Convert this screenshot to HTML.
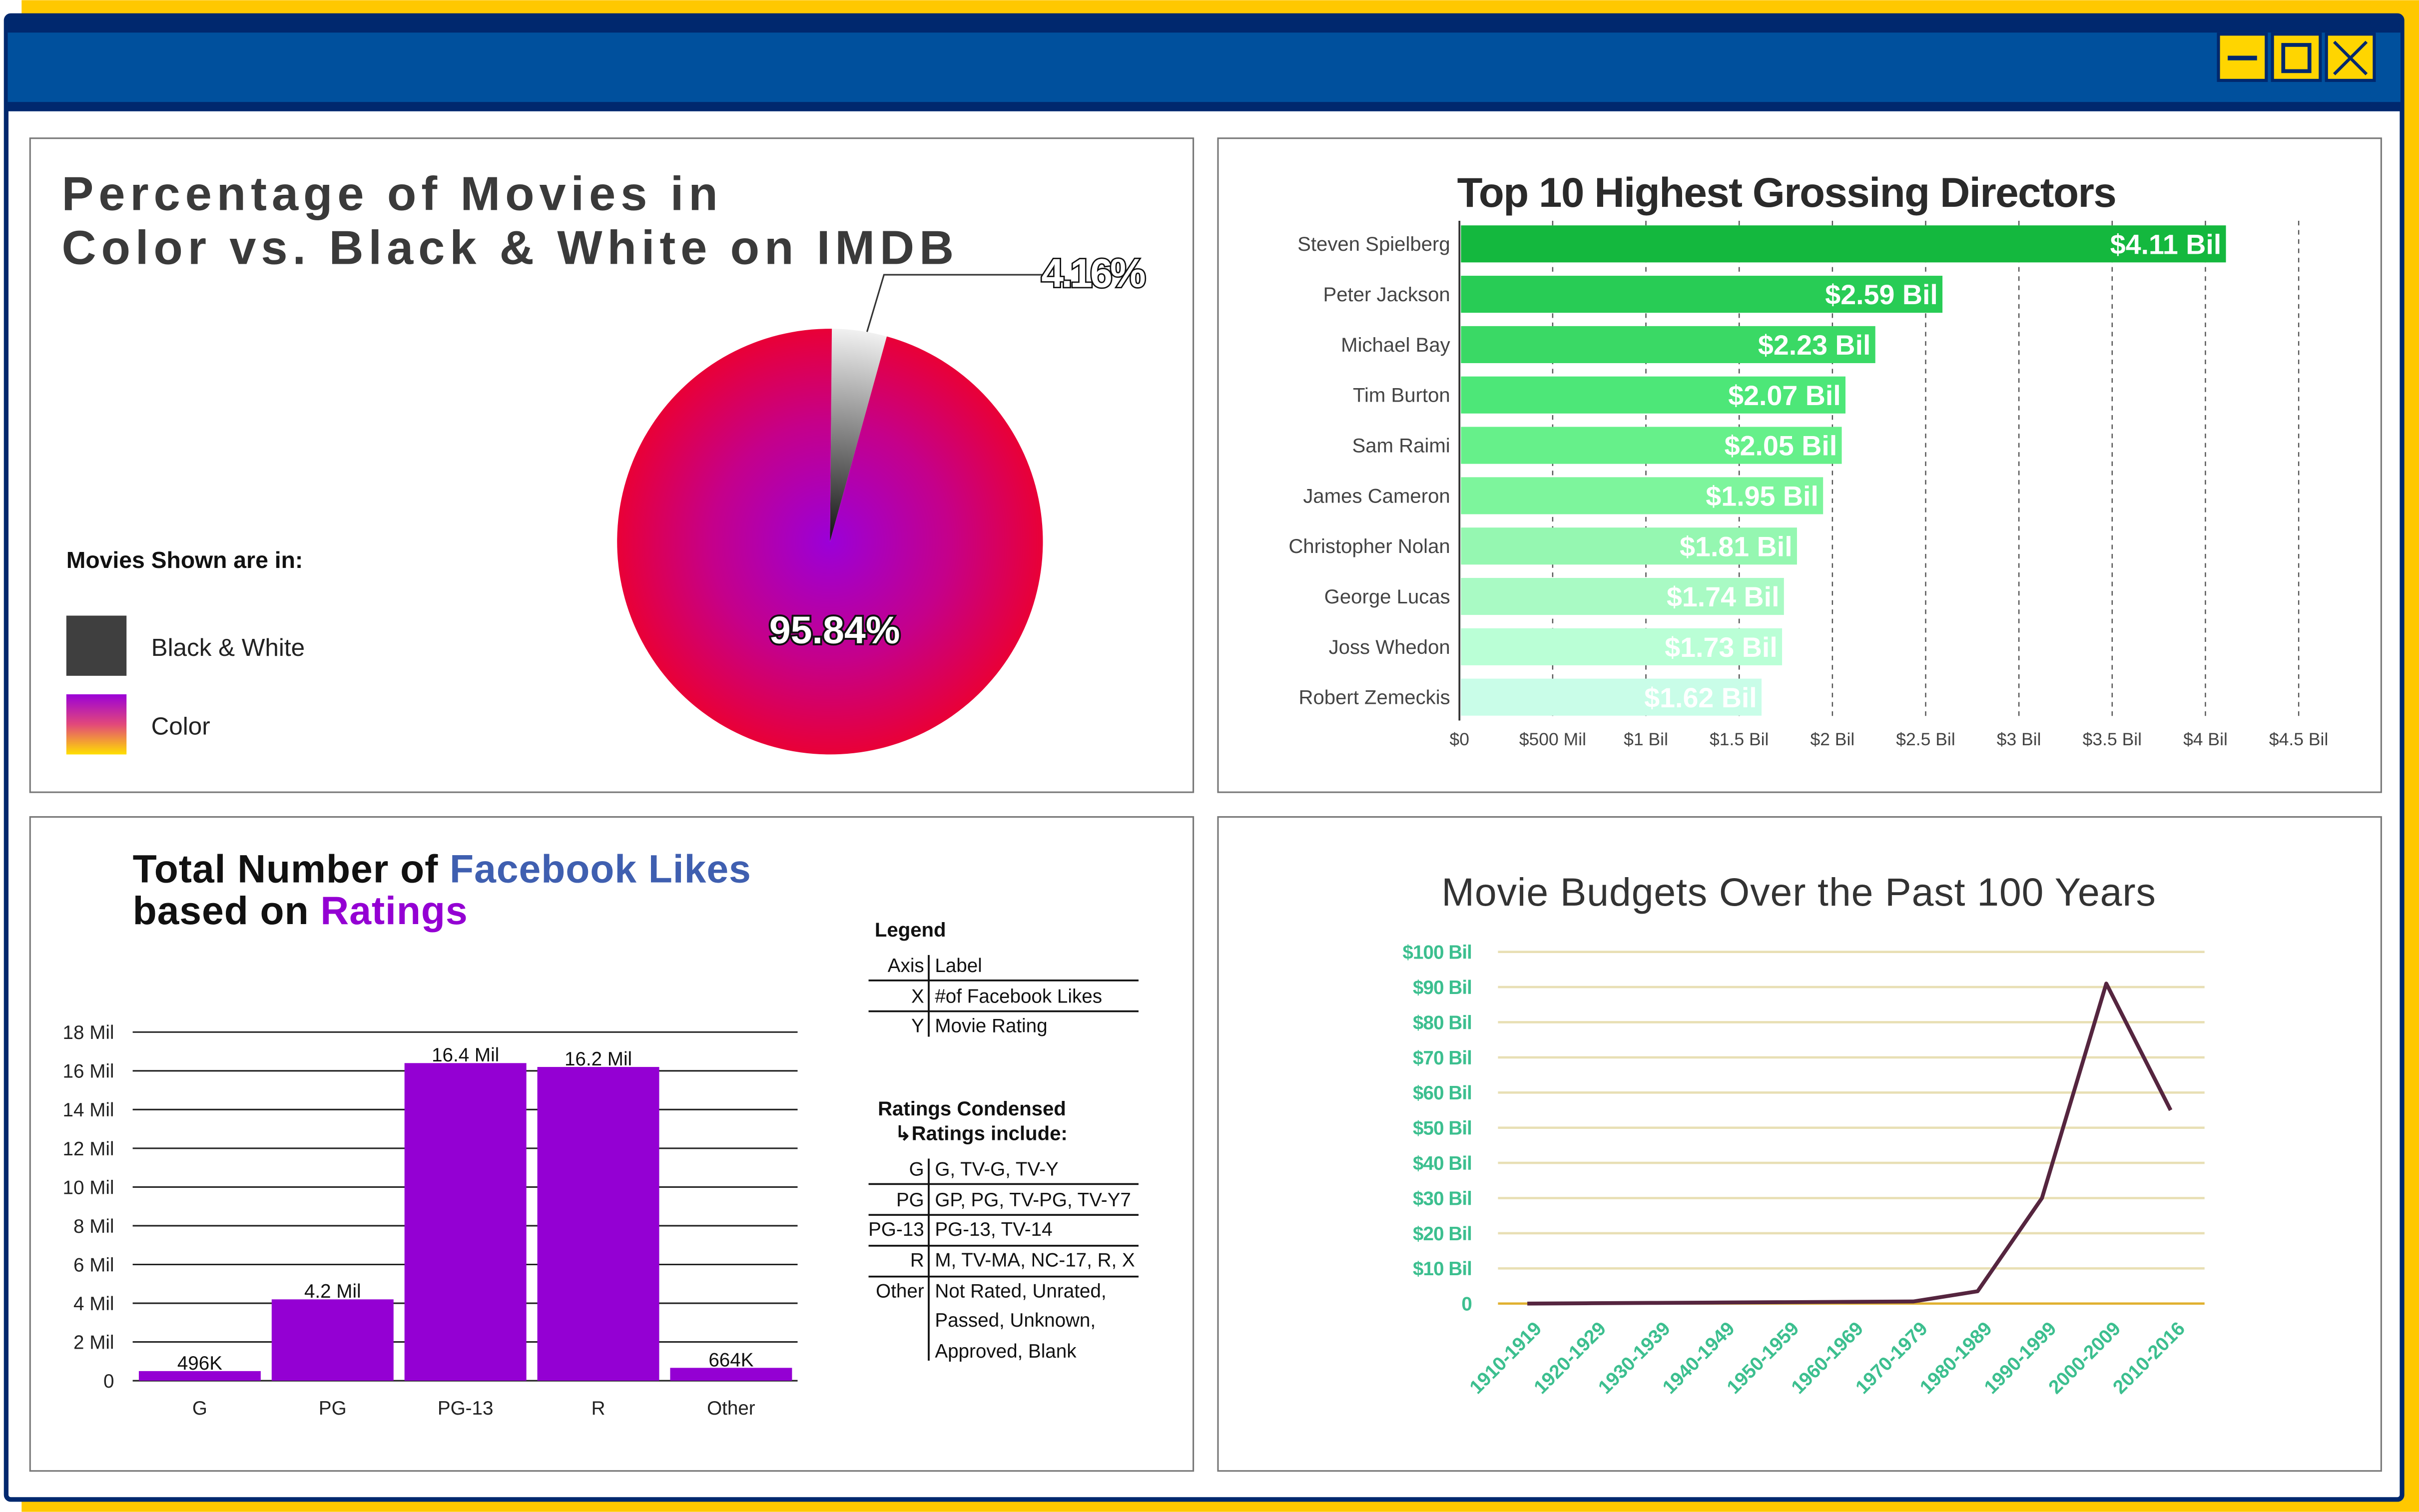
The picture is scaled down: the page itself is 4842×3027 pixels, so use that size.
<!DOCTYPE html>
<html><head><meta charset="utf-8"><style>
html,body{margin:0;padding:0;background:#fff;}
svg{display:block;}
text{font-family:"Liberation Sans",sans-serif;}
</style></head><body>
<svg id="s" width="4842" height="3027" viewBox="0 0 1568 980" xmlns="http://www.w3.org/2000/svg">
<defs>
<radialGradient id="pieG" cx="538" cy="351" r="140" gradientUnits="userSpaceOnUse">
<stop offset="0" stop-color="#9b00d8"/><stop offset="0.55" stop-color="#c5008a"/><stop offset="1" stop-color="#ea0034"/></radialGradient>
<radialGradient id="bwG" cx="538" cy="351" r="140" gradientUnits="userSpaceOnUse">
<stop offset="0" stop-color="#111"/><stop offset="1" stop-color="#f4f4f4"/></radialGradient>
<linearGradient id="colG" x1="0" y1="0" x2="0" y2="1"><stop offset="0" stop-color="#9b00d8"/><stop offset="0.5" stop-color="#e2487a"/><stop offset="1" stop-color="#ffe000"/></linearGradient>
</defs>
<rect x="14" y="0" width="1554" height="980" fill="#ffc800"/>
<rect x="4" y="10" width="1553" height="962" rx="3" fill="#fff" stroke="#00286e" stroke-width="3"/>
<rect x="5" y="11" width="1551" height="61" fill="#00509d"/>
<rect x="5" y="11" width="1551" height="10" fill="#00286e"/>
<rect x="5" y="66" width="1551" height="6" fill="#00286e"/>
<g><rect x="1438" y="22" width="31" height="30" fill="#ffd500" stroke="#00286e" stroke-width="2"/><rect x="1444" y="36" width="19" height="3" fill="#00286e"/></g>
<g><rect x="1473" y="22" width="31" height="30" fill="#ffd500" stroke="#00286e" stroke-width="2"/><rect x="1480" y="29" width="17" height="17" fill="none" stroke="#00286e" stroke-width="2.5"/></g>
<g><rect x="1508" y="22" width="31" height="30" fill="#ffd500" stroke="#00286e" stroke-width="2"/><path d="M1513 27L1534 48M1534 27L1513 48" stroke="#00286e" stroke-width="2"/></g>

<rect x="19.5" y="89.5" width="754" height="424" fill="#fff" stroke="#777" stroke-width="1"/>
<rect x="789.5" y="89.5" width="754" height="424" fill="#fff" stroke="#777" stroke-width="1"/>
<rect x="19.5" y="529.5" width="754" height="424" fill="#fff" stroke="#777" stroke-width="1"/>
<rect x="789.5" y="529.5" width="754" height="424" fill="#fff" stroke="#777" stroke-width="1"/>

<!-- Pie -->
<text x="40" y="136" font-size="31" font-weight="bold" fill="#3a3a3a" letter-spacing="3.2">Percentage of Movies in</text>
<text x="40" y="171" font-size="31" font-weight="bold" fill="#3a3a3a" letter-spacing="3.2">Color vs. Black &amp; White on IMDB</text>
<text x="43" y="368" font-size="15" font-weight="bold" fill="#111">Movies Shown are in:</text>
<rect x="43" y="399" width="39" height="39" fill="#3f3f3f"/>
<text x="98" y="425" font-size="16" fill="#222">Black &amp; White</text>
<rect x="43" y="450" width="39" height="39" fill="url(#colG)"/>
<text x="98" y="476" font-size="16" fill="#222">Color</text>
<g id="pie"></g>
<polyline points="562,215 573,178 676,178" fill="none" stroke="#333" stroke-width="1"/>
<text x="675" y="186" font-size="26" font-weight="bold" fill="#fff" stroke="#111" stroke-width="1.8" letter-spacing="-1.5" paint-order="stroke">4.16%</text>
<text x="541" y="417" font-size="25" font-weight="bold" fill="#fff" stroke="#111" stroke-width="2.5" text-anchor="middle" paint-order="stroke">95.84%</text>

<!-- Directors -->
<text x="1158" y="134" font-size="27" font-weight="bold" fill="#2a2a2a" text-anchor="middle" letter-spacing="-0.5">Top 10 Highest Grossing Directors</text>
<g id="dir"></g>

<!-- Facebook -->
<text x="86" y="572" font-size="25.5" font-weight="bold" fill="#111" letter-spacing="0.3">Total Number of <tspan fill="#3f5fb0">Facebook Likes</tspan></text>
<text x="86" y="599" font-size="25.5" font-weight="bold" fill="#111" letter-spacing="0.3">based on <tspan fill="#9400d3">Ratings</tspan></text>
<g id="fb"></g>
<g font-size="12.5" fill="#111">
<text x="567" y="607" font-weight="bold" font-size="13">Legend</text>
<text x="599" y="630" text-anchor="end">Axis</text><text x="606" y="630">Label</text>
<text x="599" y="650" text-anchor="end">X</text><text x="606" y="650">#of Facebook Likes</text>
<text x="599" y="669" text-anchor="end">Y</text><text x="606" y="669">Movie Rating</text>
<path d="M602 619V672M563 635.5H738M563 655.5H738" stroke="#111" stroke-width="1.2"/>
<text x="569" y="723" font-weight="bold" font-size="13">Ratings Condensed</text>
<text x="580" y="739" font-weight="bold" font-size="13">↳Ratings include:</text>
<text x="599" y="762" text-anchor="end">G</text><text x="606" y="762">G, TV-G, TV-Y</text>
<text x="599" y="782" text-anchor="end">PG</text><text x="606" y="782">GP, PG, TV-PG, TV-Y7</text>
<text x="599" y="801" text-anchor="end">PG-13</text><text x="606" y="801">PG-13, TV-14</text>
<text x="599" y="821" text-anchor="end">R</text><text x="606" y="821">M, TV-MA, NC-17, R, X</text>
<text x="599" y="841" text-anchor="end">Other</text><text x="606" y="841">Not Rated, Unrated,</text>
<text x="606" y="860">Passed, Unknown,</text><text x="606" y="880">Approved, Blank</text>
<path d="M602 751V882M563 767.5H738M563 787.5H738M563 807.5H738M563 827.5H738" stroke="#111" stroke-width="1.2"/>
</g>

<!-- Budgets -->
<text x="1166" y="587" font-size="25.5" fill="#333" text-anchor="middle" letter-spacing="0.3">Movie Budgets Over the Past 100 Years</text>
<g id="bud"></g>
</svg>
<script>
const NS='http://www.w3.org/2000/svg';
function mk(p,tag,a,txt){const e=document.createElementNS(NS,tag);for(const k in a)e.setAttribute(k,a[k]);if(txt!==undefined)e.textContent=txt;p.appendChild(e);return e;}

// Pie data
const pieLabels=['Black & White','Color'];
const pieValues=[4.16,95.84];
(function(){
 const g=document.getElementById('pie');const cx=538,cy=351,r=138;
 let a0=0.5*Math.PI/180;const tot=pieValues.reduce((a,b)=>a+b,0);
 const fills=['url(#bwG)','url(#pieG)'];
 pieValues.forEach((v,i)=>{
  const a1=a0+v/tot*2*Math.PI;
  const x0=cx+r*Math.sin(a0),y0=cy-r*Math.cos(a0),x1=cx+r*Math.sin(a1),y1=cy-r*Math.cos(a1);
  const p=mk(g,'path',{d:`M${cx} ${cy}L${x0} ${y0}A${r} ${r} 0 ${(a1-a0)>Math.PI?1:0} 1 ${x1} ${y1}Z`,fill:fills[i]});
  
  
  a0=a1;
 });
})();

// Directors data
const directors=['Steven Spielberg','Peter Jackson','Michael Bay','Tim Burton','Sam Raimi','James Cameron','Christopher Nolan','George Lucas','Joss Whedon','Robert Zemeckis'];
const grossBil=[4.11,2.59,2.23,2.07,2.05,1.95,1.81,1.74,1.73,1.62];
const grossTicks=[0,0.5,1,1.5,2,2.5,3,3.5,4,4.5];
const grossTickLabels=['$0','$500 Mil','$1 Bil','$1.5 Bil','$2 Bil','$2.5 Bil','$3 Bil','$3.5 Bil','$4 Bil','$4.5 Bil'];
const dirColors=['#14b83e','#28cc55','#3ad965','#4de778','#66f08a','#7df59c','#95f7b1','#a9fac4','#baffd6','#c9fde8'];
(function(){
 const g=document.getElementById('dir');
 const x=v=>946+v*(1490-946)/4.5;const y0=142,step=32.65,bh=24;
 grossTicks.forEach((t,i)=>{
  if(i>0){const l=mk(g,'line',{x1:x(t),x2:x(t),y1:143,y2:467,stroke:'#555','stroke-width':0.8,'stroke-dasharray':'3,3'});
  
  }
  const tx=mk(g,'text',{x:x(t),y:483,'font-size':11.5,fill:'#444','text-anchor':'middle'},grossTickLabels[i]);
  
  
 });
 directors.forEach((d,i)=>{
  const yc=y0+i*step+bh/2+4;
  const r=mk(g,'rect',{x:947,y:yc-bh/2,width:x(grossBil[i])-947,height:bh,fill:dirColors[i]});
  
  
  const l=mk(g,'text',{x:940,y:yc+4.5,'font-size':13,fill:'#444','text-anchor':'end'},d);
  
  
  const v=mk(g,'text',{x:x(grossBil[i])-3,y:yc+6.5,'font-size':18,'font-weight':'bold',fill:'#fff','text-anchor':'end'},'$'+grossBil[i].toFixed(2)+' Bil');
  
  
 });
 const ax=mk(g,'line',{x1:946,x2:946,y1:143,y2:467,stroke:'#333','stroke-width':1.2});
 
 
})();

// Facebook data
const ratings=['G','PG','PG-13','R','Other'];
const likesMil=[0.496,4.2,16.4,16.2,0.664];
const likesLabels=['496K','4.2 Mil','16.4 Mil','16.2 Mil','664K'];
const likesTicks=[0,2,4,6,8,10,12,14,16,18];
(function(){
 const g=document.getElementById('fb');
 const y=v=>895-v*(895-669)/18;
 likesTicks.forEach(t=>{
  const l=mk(g,'line',{x1:86,x2:517,y1:y(t),y2:y(t),stroke:'#222','stroke-width':1});
  
  
  const tx=mk(g,'text',{x:74,y:y(t)+4.5,'font-size':12.5,fill:'#222','text-anchor':'end'},t===0?'0':t+' Mil');
  
  
 });
 const bw=79,start=90,step=86.1;
 ratings.forEach((r,i)=>{
  const bx=start+i*step;
  const b=mk(g,'rect',{x:bx,y:y(likesMil[i]),width:bw,height:895-y(likesMil[i]),fill:'#9400d3'});
  
  
  const v=mk(g,'text',{x:bx+bw/2,y:y(likesMil[i])-1,'font-size':12.5,fill:'#111','text-anchor':'middle'},likesLabels[i]);
  
  
  const c=mk(g,'text',{x:bx+bw/2,y:917,'font-size':12.5,fill:'#222','text-anchor':'middle'},r);
  
  
 });
})();

// Budget data
const decades=['1910-1919','1920-1929','1930-1939','1940-1949','1950-1959','1960-1969','1970-1979','1980-1989','1990-1999','2000-2009','2010-2016'];
const budgetBil=[0,0.1,0.2,0.3,0.4,0.5,0.6,3.5,30,91,55];
const budgetTicks=[0,10,20,30,40,50,60,70,80,90,100];
(function(){
 const g=document.getElementById('bud');
 const y=v=>845-v*(845-617)/100;const x=i=>990+i*(1407-990)/10;
 budgetTicks.forEach(t=>{
  const l=mk(g,'line',{x1:971,x2:1429,y1:y(t),y2:y(t),stroke:t===0?'#e0b030':'#e8dfb4','stroke-width':1.5});
  
  
  const tx=mk(g,'text',{x:954,y:y(t)+4.5,'font-size':12.5,'font-weight':'bold',fill:'#3cbf8f','text-anchor':'end',  'letter-spacing':'-0.3'},t===0?'0':'$'+t+' Bil');
  
  
 });
 decades.forEach((d,i)=>{
  const t=mk(g,'text',{x:x(i)+10,y:862,'font-size':12.5,'font-weight':'bold',fill:'#3cbf8f','text-anchor':'end',transform:`rotate(-45 ${x(i)+10} 862)`},d);
  
  
 });
 const pts=budgetBil.map((v,i)=>x(i)+','+y(v)).join(' ');
 const p=mk(g,'polyline',{points:pts,fill:'none',stroke:'#55253f','stroke-width':2.5,'stroke-linejoin':'round'});
 
 
})();
</script>
</body></html>
